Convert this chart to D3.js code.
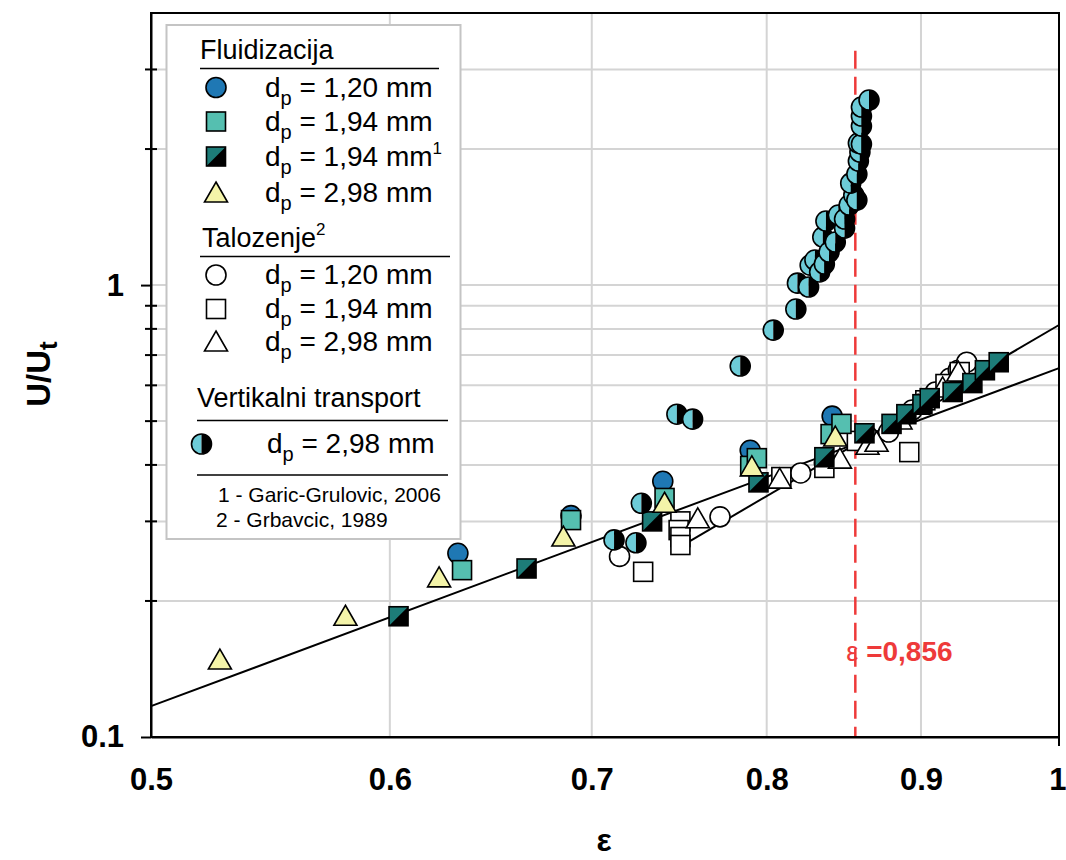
<!DOCTYPE html>
<html>
<head>
<meta charset="utf-8">
<script src="https://cdn.jsdelivr.net/npm/d3@7"></script>
<style>
  body { margin: 0; background: #fff; }
  svg { font-family: "Liberation Sans", Arial, sans-serif; }
</style>
</head>
<body>
<div id="chart"></div>
<script>
// Fluidizacija, dp = 1,20 mm
const fluid120Eps = [0.632, 0.689, 0.739, 0.790, 0.841];
const fluid120U   = [0.255, 0.309, 0.368, 0.431, 0.513];
// Fluidizacija, dp = 1,94 mm
const fluid194Eps = [0.634, 0.689, 0.740, 0.790, 0.794, 0.840, 0.847];
const fluid194U   = [0.234, 0.302, 0.338, 0.398, 0.414, 0.468, 0.493];
// Fluidizacija, dp = 1,94 mm (Garic-Grulovic, 2006)
const fluid194gEps = [0.604, 0.666, 0.733, 0.795, 0.836, 0.862, 0.880, 0.890, 0.901, 0.906, 0.922, 0.936, 0.945, 0.955];
const fluid194gU   = [0.185, 0.236, 0.300, 0.366, 0.416, 0.470, 0.493, 0.518, 0.545, 0.562, 0.580, 0.607, 0.648, 0.675];
// Fluidizacija, dp = 2,98 mm
const fluid298Eps = [0.527, 0.580, 0.623, 0.685, 0.740, 0.791, 0.843];
const fluid298U   = [0.148, 0.185, 0.225, 0.277, 0.329, 0.396, 0.461];

// Talozenje (Grbavcic, 1989)
const sed120Eps = [0.715, 0.772, 0.821, 0.836, 0.864, 0.878, 0.894, 0.910, 0.920, 0.926, 0.932];
const sed120U   = [0.251, 0.307, 0.384, 0.404, 0.463, 0.473, 0.529, 0.580, 0.622, 0.648, 0.675];
const sed194Eps = [0.728, 0.749, 0.748, 0.749, 0.749, 0.809, 0.836, 0.857, 0.892, 0.903, 0.917, 0.927];
const sed194U   = [0.232, 0.300, 0.287, 0.277, 0.266, 0.376, 0.394, 0.452, 0.427, 0.556, 0.604, 0.642];
const sed298Eps = [0.759, 0.808, 0.846, 0.864, 0.870, 0.886, 0.898, 0.915, 0.926];
const sed298U   = [0.304, 0.372, 0.412, 0.442, 0.449, 0.503, 0.542, 0.592, 0.642];

// Vertikalni transport, dp = 2,98 mm
const vtEps = [0.712, 0.724, 0.727, 0.747, 0.756, 0.784, 0.804, 0.818, 0.819, 0.826, 0.827, 0.830,
               0.833, 0.836, 0.835, 0.837, 0.839, 0.843, 0.845, 0.849, 0.849, 0.852, 0.855, 0.857,
               0.853, 0.857, 0.858, 0.859, 0.858, 0.860, 0.860, 0.860, 0.860, 0.865];
const vtU   = [0.273, 0.269, 0.329, 0.518, 0.505, 0.662, 0.795, 0.885, 1.010, 0.990, 1.107, 1.136,
               1.069, 1.113, 1.277, 1.386, 1.183, 1.245, 1.429, 1.337, 1.400, 1.503, 1.582, 1.542,
               1.681, 1.761, 1.881, 1.969, 2.062, 2.051, 2.248, 2.366, 2.477, 2.567];

// fitted lines (end points)
const fitAEps = [0.5, 1];
const fitAU   = [0.117, 0.655];
const fitBEps = [0.752, 1];
const fitBU   = [0.268, 0.816];

// critical porosity
const epsCrit = 0.856;
const critTop = 3.3;

// ticks
const xTicks  = [0.5, 0.6, 0.7, 0.8, 0.9, 1];
const yMajor  = [0.1, 1];
const yMinor  = [0.2, 0.3, 0.4, 0.5, 0.6, 0.7, 0.8, 0.9, 2, 3];

const col = {
    blue: "#1f78b4",
    teal: "#55bfb0",
    dark: "#1d7c78",
    yellow: "#f4f4a9",
    cyan: "#6dccd8",
    red: "#ee3a3a",
    grid: "#d4d4d4"
};

const svg = d3.select("#chart").append("svg")
    .attr("width", 1066)
    .attr("height", 860);

const x = d3.scaleLog().domain([0.5, 1]).range([151, 1059]);
const y = d3.scaleLog().domain([0.1, 4]).range([737, 13]);

// Gridlines
svg.append("g").selectAll("line")
    .data(yMinor.concat([1]))
    .join("line")
    .attr("x1", x.range()[0]).attr("x2", x.range()[1])
    .attr("y1", d => y(d)).attr("y2", d => y(d))
    .attr("stroke", col.grid).attr("stroke-width", 2);

svg.append("g").selectAll("line")
    .data(xTicks.slice(1, -1))
    .join("line")
    .attr("x1", d => x(d)).attr("x2", d => x(d))
    .attr("y1", y.range()[0]).attr("y2", y.range()[1])
    .attr("stroke", col.grid).attr("stroke-width", 2);

// Fitted lines
const line = d3.line().x(d => x(d[0])).y(d => y(d[1]));
[[fitAEps, fitAU], [fitBEps, fitBU]].forEach(([e, u]) => {
    svg.append("path")
        .datum(d3.zip(e, u))
        .attr("fill", "none")
        .attr("stroke", "#000")
        .attr("stroke-width", 2)
        .attr("d", line);
});

// Red dashed line
svg.append("line")
    .attr("x1", x(epsCrit)).attr("x2", x(epsCrit))
    .attr("y1", y(critTop)).attr("y2", y(0.1))
    .attr("stroke", col.red)
    .attr("stroke-width", 2.5)
    .attr("stroke-dasharray", "18,8");

// Marker drawing
function drawMarker(g, kind, cx, cy) {
    const r = 10, s = 19, h = s / 2;
    const sw = 1.6;
    if (kind === "circle" || kind === "ocircle") {
        g.append("circle").attr("cx", cx).attr("cy", cy).attr("r", r)
            .attr("fill", kind === "circle" ? col.blue : "#fff")
            .attr("stroke", "#000").attr("stroke-width", sw);
    } else if (kind === "square" || kind === "osquare") {
        g.append("rect").attr("x", cx - h).attr("y", cy - h).attr("width", s).attr("height", s)
            .attr("fill", kind === "square" ? col.teal : "#fff")
            .attr("stroke", "#000").attr("stroke-width", sw);
    } else if (kind === "split") {
        g.append("rect").attr("x", cx - h).attr("y", cy - h).attr("width", s).attr("height", s)
            .attr("fill", "#000");
        g.append("path")
            .attr("d", `M${cx - h},${cy - h}L${cx + h},${cy - h}L${cx - h},${cy + h}Z`)
            .attr("fill", col.dark);
        g.append("rect").attr("x", cx - h).attr("y", cy - h).attr("width", s).attr("height", s)
            .attr("fill", "none").attr("stroke", "#000").attr("stroke-width", sw);
    } else if (kind === "triangle" || kind === "otriangle") {
        g.append("path")
            .attr("d", `M${cx},${cy - 11}L${cx + 11.5},${cy + 9}L${cx - 11.5},${cy + 9}Z`)
            .attr("fill", kind === "triangle" ? col.yellow : "#fff")
            .attr("stroke", "#000").attr("stroke-width", sw);
    } else if (kind === "half") {
        g.append("path")
            .attr("d", `M${cx},${cy - r}A${r},${r} 0 0 0 ${cx},${cy + r}Z`)
            .attr("fill", col.cyan);
        g.append("path")
            .attr("d", `M${cx},${cy - r}A${r},${r} 0 0 1 ${cx},${cy + r}Z`)
            .attr("fill", "#000");
        g.append("circle").attr("cx", cx).attr("cy", cy).attr("r", r)
            .attr("fill", "none").attr("stroke", "#000").attr("stroke-width", sw);
    }
}

// open symbols underneath, fluidization on top, vertical transport last
const series = [
    { eps: sed120Eps, u: sed120U, kind: "ocircle" },
    { eps: sed194Eps, u: sed194U, kind: "osquare" },
    { eps: sed298Eps, u: sed298U, kind: "otriangle" },
    { eps: fluid120Eps, u: fluid120U, kind: "circle" },
    { eps: fluid194Eps, u: fluid194U, kind: "square" },
    { eps: fluid194gEps, u: fluid194gU, kind: "split" },
    { eps: fluid298Eps, u: fluid298U, kind: "triangle" },
    { eps: vtEps, u: vtU, kind: "half" }
];

series.forEach(sr => {
    svg.append("g").selectAll("g")
        .data(d3.zip(sr.eps, sr.u))
        .join("g")
        .each(function(d) {
            drawMarker(d3.select(this), sr.kind, x(d[0]), y(d[1]));
        });
});

// Frame
svg.append("rect")
    .attr("x", x.range()[0]).attr("y", y.range()[1])
    .attr("width", x.range()[1] - x.range()[0])
    .attr("height", y.range()[0] - y.range()[1])
    .attr("fill", "none").attr("stroke", "#000").attr("stroke-width", 2);

// Y axis
const yAxis = svg.append("g")
    .attr("transform", `translate(${x.range()[0]},0)`)
    .call(d3.axisLeft(y).tickValues(yMajor).tickFormat(d => d === 1 ? "1" : "0.1")
        .tickSize(10).tickPadding(17).tickSizeOuter(0));
yAxis.select(".domain").attr("stroke-width", 2);
yAxis.selectAll(".tick line").attr("stroke-width", 2);
yAxis.selectAll("text")
    .style("font-size", "31px").style("font-weight", "bold")
    .attr("font-family", "Liberation Sans, Arial, sans-serif");

// Minor ticks crossing y axis
svg.append("g").selectAll("line")
    .data(yMinor)
    .join("line")
    .attr("x1", x.range()[0] - 6).attr("x2", x.range()[0] + 6)
    .attr("y1", d => y(d)).attr("y2", d => y(d))
    .attr("stroke", "#000").attr("stroke-width", 2);

// X axis
const xAxis = svg.append("g")
    .attr("transform", `translate(0,${y.range()[0]})`)
    .call(d3.axisBottom(x).tickValues(xTicks).tickFormat(d => String(d))
        .tickSize(0).tickPadding(31).tickSizeOuter(0));
xAxis.select(".domain").attr("stroke-width", 2);
xAxis.selectAll("text")
    .style("font-size", "31px").style("font-weight", "bold")
    .attr("font-family", "Liberation Sans, Arial, sans-serif");
// keep the last label inside the page
xAxis.selectAll(".tick text").filter(d => d === 1).attr("text-anchor", "end").attr("dx", 7);

svg.append("line")
    .attr("x1", x(1)).attr("x2", x(1))
    .attr("y1", y(0.1)).attr("y2", y(0.1) + 9)
    .attr("stroke", "#000").attr("stroke-width", 2);

// Axis titles
const yt = svg.append("text")
    .attr("transform", "translate(50,374) rotate(-90)")
    .attr("text-anchor", "middle")
    .style("font-size", "33px").style("font-weight", "bold");
yt.append("tspan").text("U/U");
yt.append("tspan").attr("dy", 7).style("font-size", "26px").text("t");

svg.append("text")
    .attr("x", 604).attr("y", 851)
    .attr("text-anchor", "middle")
    .style("font-size", "32px").style("font-weight", "bold")
    .text("ε");

// Critical porosity label
const cl = svg.append("text")
    .attr("x", x(epsCrit) - 9).attr("y", 661)
    .attr("fill", col.red);
cl.append("tspan").style("font-size", "27px").text("ε");
cl.append("tspan").style("font-size", "28px").style("font-weight", "bold").text(" =0,856");

// Legend
const lg = svg.append("g");
lg.append("rect")
    .attr("x", 166.5).attr("y", 25).attr("width", 294).attr("height", 514)
    .attr("fill", "#fff").attr("stroke", "#c4c4c4").attr("stroke-width", 2);

function header(txt, sup, tx, ty) {
    const t = lg.append("text").attr("x", tx).attr("y", ty).style("font-size", "27px").text(txt);
    if (sup) t.append("tspan").attr("dy", -12).style("font-size", "17px").text(sup);
}
function rule(x1, x2, yy) {
    lg.append("line").attr("x1", x1).attr("x2", x2).attr("y1", yy).attr("y2", yy)
        .attr("stroke", "#000").attr("stroke-width", 1.5);
}
function entry(kind, mx, tx, cy, label, sup) {
    drawMarker(lg.append("g"), kind, mx, cy);
    const t = lg.append("text").attr("x", tx).attr("y", cy + 9)
        .style("font-size", "28px").style("white-space", "pre");
    t.append("tspan").text("d");
    t.append("tspan").attr("dy", 8).style("font-size", "20px").text("p");
    t.append("tspan").attr("dy", -8).text(" = " + label);
    if (sup) t.append("tspan").attr("dy", -12).style("font-size", "17px").text(sup);
}

header("Fluidizacija", null, 200, 59);
rule(200, 439, 68.5);
entry("circle", 216, 265, 87.5, "1,20 mm");
entry("square", 216, 265, 121.5, "1,94 mm");
entry("split", 216, 265, 156.5, "1,94 mm", "1");
entry("triangle", 216, 265, 193, "2,98 mm");

header("Talozenje", "2", 202, 246.5);
rule(200, 450, 256.5);
entry("ocircle", 216, 265, 275, "1,20 mm");
entry("osquare", 216, 265, 309, "1,94 mm");
entry("otriangle", 216, 265, 342, "2,98 mm");

header("Vertikalni transport", null, 197, 407);
rule(197, 448, 420.5);
entry("half", 201.5, 267, 444, "2,98 mm");
rule(197, 448, 475);

lg.append("text").attr("x", 218).attr("y", 502).style("font-size", "21px").text("1 - Garic-Grulovic, 2006");
lg.append("text").attr("x", 216).attr("y", 527).style("font-size", "21px").text("2 - Grbavcic, 1989");
</script>
</body>
</html>
